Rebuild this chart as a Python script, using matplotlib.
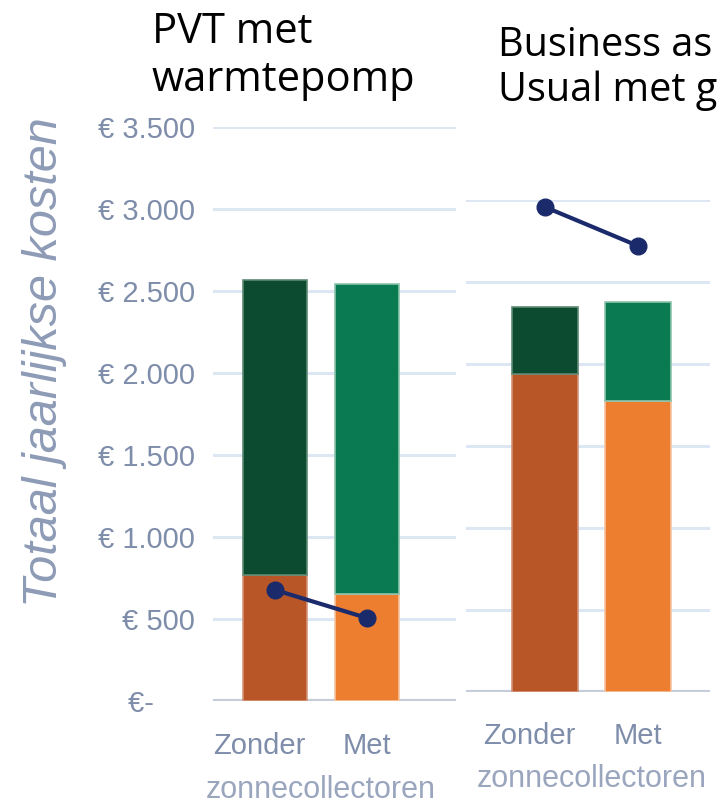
import matplotlib
matplotlib.use("Agg")
import matplotlib.pyplot as plt
import numpy as np

# categories under each pair of bars
categories = ["Zonder", "Met"]
sub_label = "zonnecollectoren"

# PVT met warmtepomp (left panel)
pvt_energy = [768, 652]
pvt_other = [1799, 1891]
pvt_total_line = [677, 506]

# Business as Usual met gas (right panel, cut off at the right edge)
bau_energy = [1939, 1774]
bau_other = [409, 604]
bau_total_line = [2957, 2720]

yticks = [0, 500, 1000, 1500, 2000, 2500, 3000, 3500]
ytick_labels = ["€-     ", "€ 500", "€ 1.000", "€ 1.500", "€ 2.000",
                "€ 2.500", "€ 3.000", "€ 3.500"]

energy_colors = ["#B85628", "#ED7E30"]
other_colors = ["#0C4B2F", "#097A51"]
energy_edges = ["#D49478", "#F6C29E"]
other_edges = ["#5E8A74", "#8CC4AC"]
line_color = "#1B2A6B"
grid_color = "#DDE7F3"
base_color = "#C6CDDA"
label_color = "#7E8DAA"

W, H = 717, 806
fig = plt.figure(figsize=(W / 100, H / 100), dpi=100)


def px_axes(x0, x1, ytop, ybot):
    return fig.add_axes([x0 / W, 1 - ybot / H, (x1 - x0) / W, (ybot - ytop) / H])


def draw_panel(ax, energy, other, line, gridvals, xlim, ylim, width):
    x = np.arange(len(categories))
    for g in gridvals[1:]:
        ax.axhline(g, color=grid_color, lw=2.2, zorder=0)
    ax.axhline(0, color=base_color, lw=3, zorder=1)
    ax.bar(x, energy, width=width, color=energy_colors,
           edgecolor=energy_edges, lw=1.2, zorder=2)
    ax.bar(x, other, bottom=energy, width=width, color=other_colors,
           edgecolor=other_edges, lw=1.2, zorder=2)
    ax.plot(x, line, color=line_color, lw=3, marker="o", ms=12,
            zorder=3, clip_on=False)
    ax.set_xlim(*xlim)
    ax.set_ylim(*ylim)
    for s in ax.spines.values():
        s.set_visible(False)
    ax.tick_params(length=0)
    ax.set_xticks([])


# left panel
ax1 = px_axes(213, 456, 127, 701)
draw_panel(ax1, pvt_energy, pvt_other, pvt_total_line, yticks,
           (-0.674, 1.967), (0, 3500), 0.70)
ax1.set_yticks(yticks)
ax1.set_yticklabels(ytick_labels, fontsize=21, color=label_color,
                    family="Liberation Sans")
ax1.tick_params(axis="y", pad=13)
ax1.set_ylabel("Totaal jaarlijkse kosten", fontsize=35, style="italic",
               color="#8E9BB6", family="Liberation Sans")
ax1.yaxis.set_label_coords(-0.60, 0.59)

# right panel
ax2 = px_axes(466, 710, 200, 692)
draw_panel(ax2, bau_energy, bau_other, bau_total_line, yticks[:7],
           (-0.85, 1.774), (0, 3000), 0.71)
ax2.set_yticks([])

# category labels
for ax, ylab, ysub in [(ax1, 746, 790), (ax2, 736, 779)]:
    for i, c in enumerate(categories):
        if i == 0:
            xp = ax.transData.transform((i + 0.35, 0))[0] - 2
            ha = "right"
        else:
            xp = ax.transData.transform((i, 0))[0]
            ha = "center"
        fig.text(xp / W, 1 - ylab / H, c, ha=ha, va="center",
                 fontsize=21, color=label_color, family="Liberation Sans")
    xm = ax.transData.transform((0.5, 0))[0]
    fig.text(xm / W, 1 - ysub / H, sub_label, ha="center", va="center",
             fontsize=22, color="#9AA6BE", family="Liberation Sans")

# panel titles
fig.text(152 / W, 1 - 11 / H, "PVT met\nwarmtepomp", ha="left", va="top",
         fontsize=30, family="Open Sans", color="black", linespacing=1.2)
fig.text(498 / W, 1 - 25 / H, "Business as\nUsual met g", ha="left",
         va="top", fontsize=28.5, family="Open Sans", color="black",
         linespacing=1.15)

fig.savefig("out.png", dpi=100)
